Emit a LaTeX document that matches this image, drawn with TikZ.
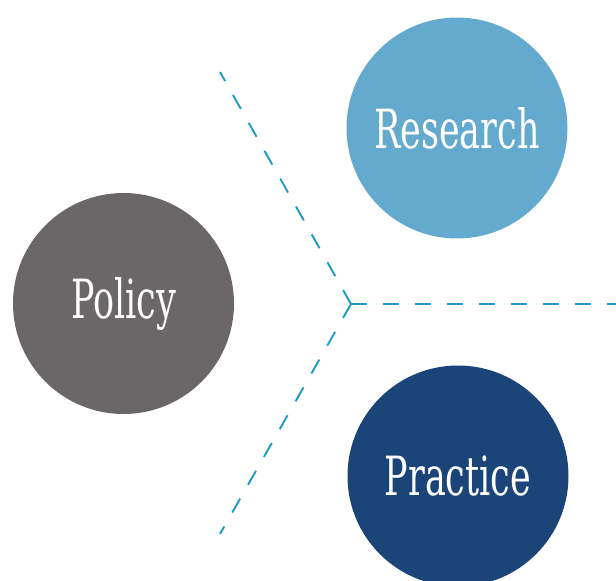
\documentclass[tikz,border=0pt]{standalone}
\usepackage{fontspec}
\newfontfamily\labelfont{DejaVu Serif Condensed}[FakeStretch=0.72]
\usetikzlibrary{positioning}
\definecolor{researchblue}{HTML}{64A9CE}
\definecolor{policygrey}{HTML}{6B6768}
\definecolor{practiceblue}{HTML}{1B4478}
\definecolor{dashteal}{HTML}{1A9BC4}
\tikzset{
  topic/.style={circle, minimum size=221pt, inner sep=0pt, text=white,
    font=\labelfont\fontsize{54}{54}\selectfont},
  divider/.style={draw=dashteal, line width=1.9pt, dash pattern=on 16pt off 16pt}
}

\begin{document}
\begin{tikzpicture}[x=1pt,y=-1pt]
	\clip (0,0) rectangle (616,581);
	\useasboundingbox (0,0) rectangle (616,581);
	\node [topic, fill=researchblue] (research) at (457,128) {Research};
	\node [topic, fill=policygrey] (policy) at (123.5,303.5) {Policy};
	\node [topic, fill=practiceblue] (practice) at (458,476) {Practice};
	% dashed split
	\coordinate (hub) at (351,304);
	\coordinate (upend) at (220,72);
	\coordinate (downend) at (220,534);
	\coordinate (rightend) at (620,304);
	\draw [divider] (hub)--(upend);
	\draw [divider] (hub)--(downend);
	\draw [divider] (hub)--(rightend);
\end{tikzpicture}
\end{document}
